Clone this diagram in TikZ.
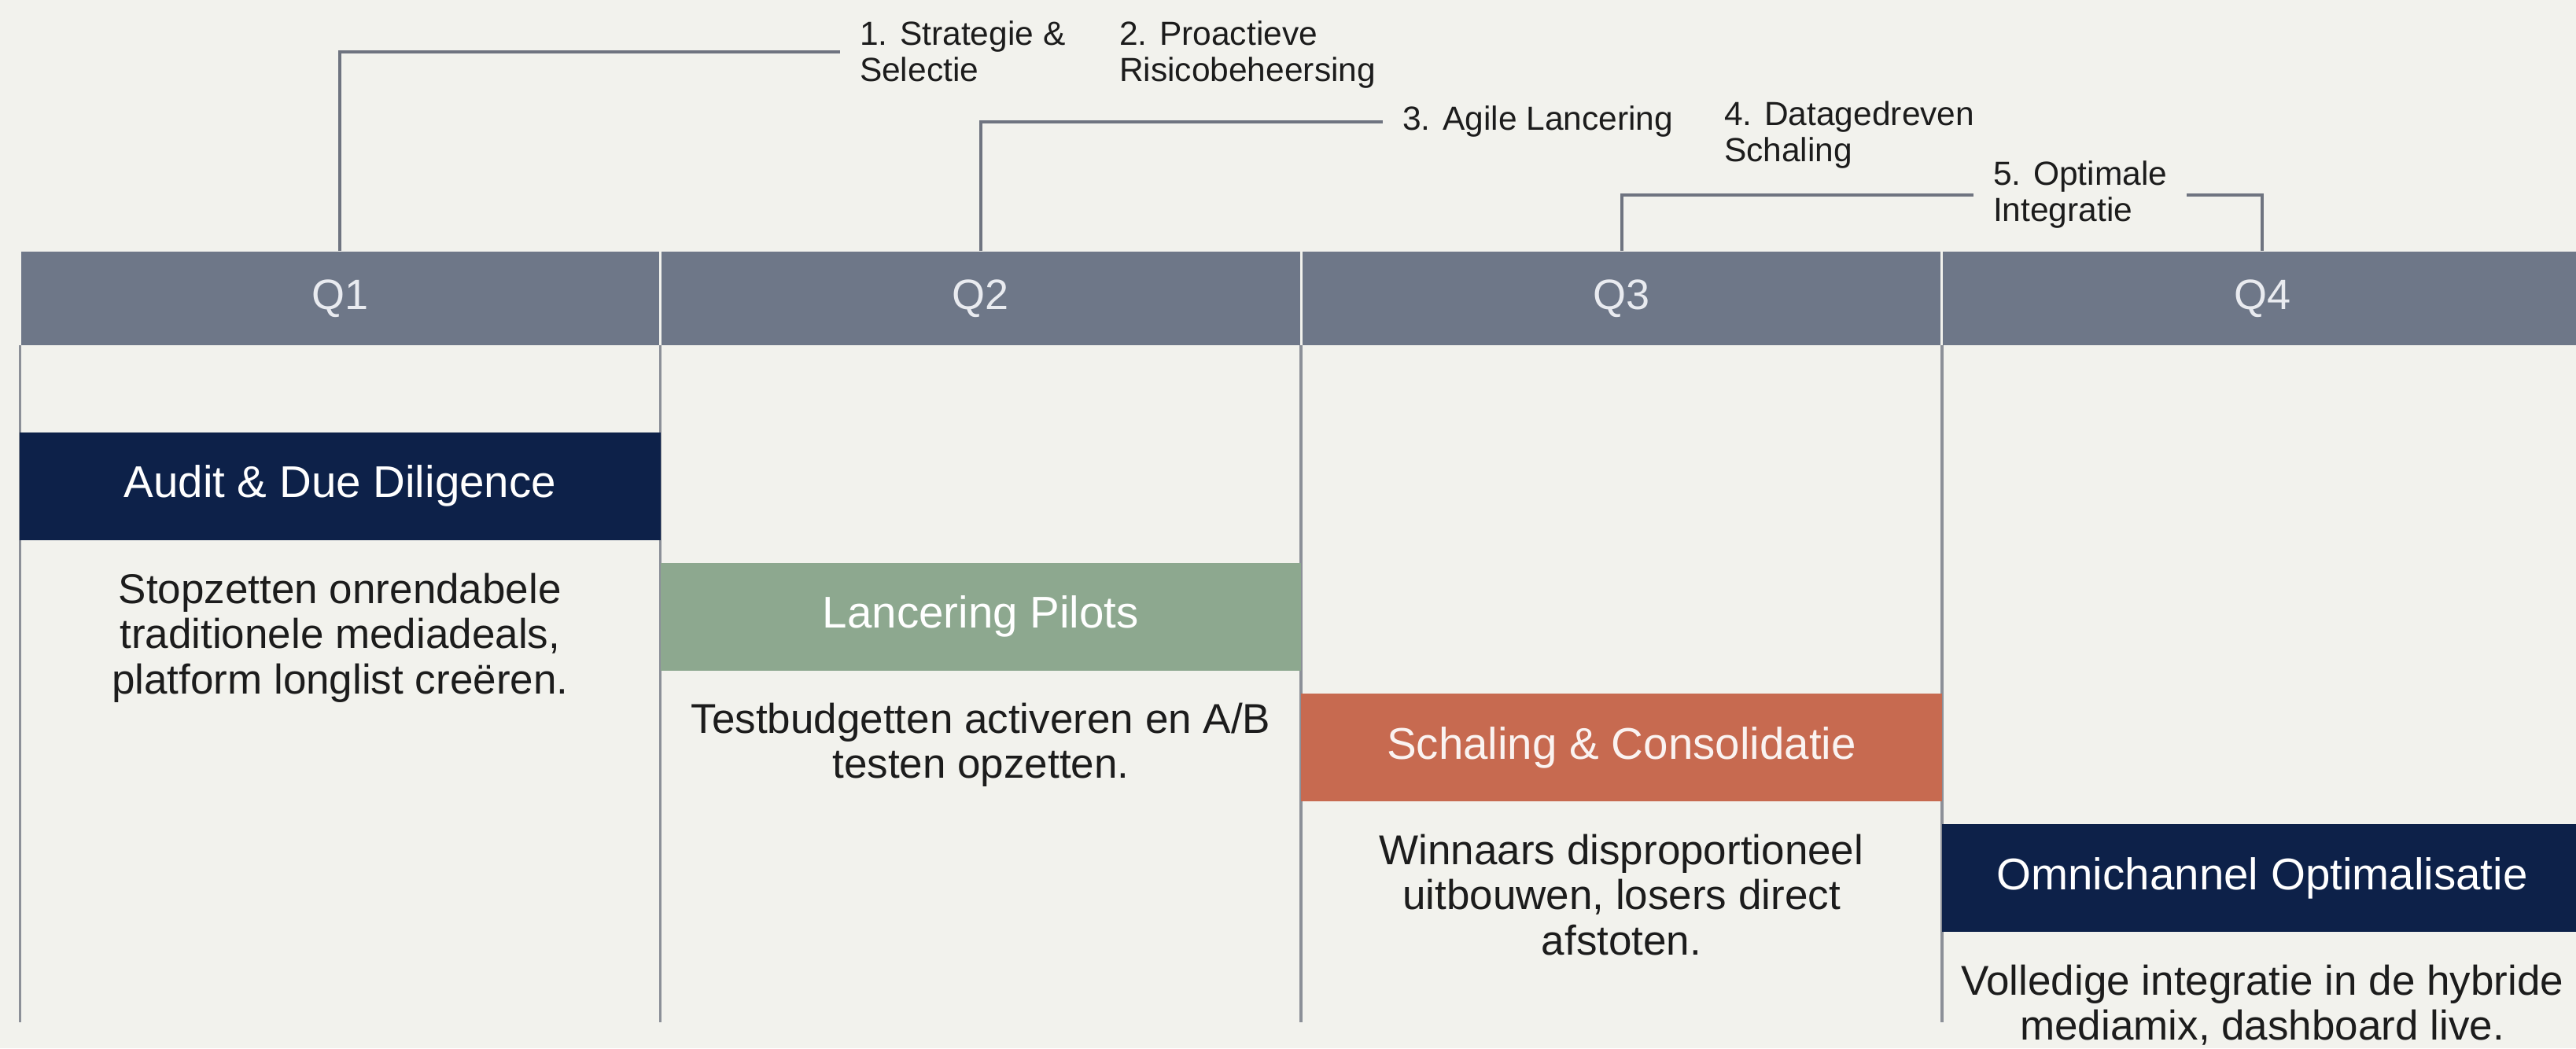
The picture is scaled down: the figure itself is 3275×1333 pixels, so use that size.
\documentclass[tikz,border=0pt]{standalone}
\usepackage{fontspec}
\setmainfont{Liberation Sans}
\definecolor{bgc}{HTML}{F2F2ED}
\definecolor{headc}{HTML}{6E7788}
\definecolor{headtxt}{HTML}{E9EBF0}
\definecolor{navyc}{HTML}{0D2149}
\definecolor{sagec}{HTML}{8DA88F}
\definecolor{terrac}{HTML}{C76A50}
\definecolor{divc}{HTML}{8C9098}
\definecolor{connc}{HTML}{6F7480}
\definecolor{txtc}{HTML}{1C1C1C}
\tikzset{
  qcell/.style={rectangle, fill=headc, text=headtxt, minimum width=162.3pt, minimum height=23.8pt, inner sep=0pt, font=\fontsize{10.8}{12}\selectfont},
  phasebox/.style={rectangle, minimum width=162.9pt, minimum height=27.4pt, inner sep=0pt, font=\fontsize{11.3}{13}\selectfont},
  navybox/.style={phasebox, fill=navyc, text=white},
  sagebox/.style={phasebox, fill=sagec, text=white},
  terrabox/.style={phasebox, fill=terrac, text=white!92!terrac},
  desc/.style={anchor=north, align=center, inner sep=0pt, text=txtc, font=\fontsize{10.6}{11.5}\selectfont},
  toplabel/.style={anchor=north west, align=left, inner xsep=4.8pt, inner ysep=0pt, text=txtc, font=\fontsize{8.5}{9.2}\selectfont},
  divider/.style={draw=divc, line width=0.7pt},
  conn/.style={draw=connc, line width=0.8pt}
}
\begin{document}
\begin{tikzpicture}[x=0.2pt, y=-0.2pt]
\fill[bgc] (0,0) rectangle (3275,1333);
\useasboundingbox (0,0) rectangle (3275,1333);

% column dividers below the header
\draw[divider] (25.5,439) -- (25.5,1300);
\draw[divider] (839.6,439) -- (839.6,1300);
\draw[divider] (1654.2,439) -- (1654.2,1300);
\draw[divider] (2468.8,439) -- (2468.8,1300);

% header cells
\node[qcell] (q1) at (432.3,379.5) {Q1};
\node[qcell] (q2) at (1246.9,379.5) {Q2};
\node[qcell] (q3) at (2061.5,379.5) {Q3};
\node[qcell] (q4) at (2876.1,379.5) {Q4};

% phase boxes
\node[navybox] (audit) at (432.3,618) {Audit \& Due Diligence};
\node[sagebox] (pilots) at (1246.9,784) {Lancering Pilots};
\node[terrabox] (schaling) at (2061.5,950.5) {Schaling \& Consolidatie};
\node[navybox] (omni) at (2876.1,1116.5) {Omnichannel Optimalisatie};

% descriptions
\node[desc] (d1) at (432.3,728) {Stopzetten onrendabele\\traditionele mediadeals,\\platform longlist creëren.};
\node[desc] (d2) at (1246.9,893) {Testbudgetten activeren en A/B\\testen opzetten.};
\node[desc] (d3) at (2061.5,1060) {Winnaars disproportioneel\\uitbouwen, losers direct\\afstoten.};
\node[desc] (d4) at (2876.1,1226) {Volledige integratie in de hybride\\mediamix, dashboard live.};

% top labels
\node[toplabel] (l1) at (1068,26) {1. Strategie \&\\Selectie};
\node[toplabel] (l2) at (1398,26) {2. Proactieve\\Risicobeheersing};
\node[toplabel] (l3) at (1758,134) {3. Agile Lancering};
\node[toplabel] (l4) at (2167,128) {4. Datagedreven\\Schaling};
\node[toplabel] (l5) at (2509,204) {5. Optimale\\Integratie};

% connectors
\draw[conn] (q1.north) |- (l1.west);
\draw[conn] (q2.north) |- (l3.west);
\draw[conn] (q3.north) |- (l5.west);
\draw[conn] (l5.east) -| (q4.north);
\end{tikzpicture}
\end{document}
